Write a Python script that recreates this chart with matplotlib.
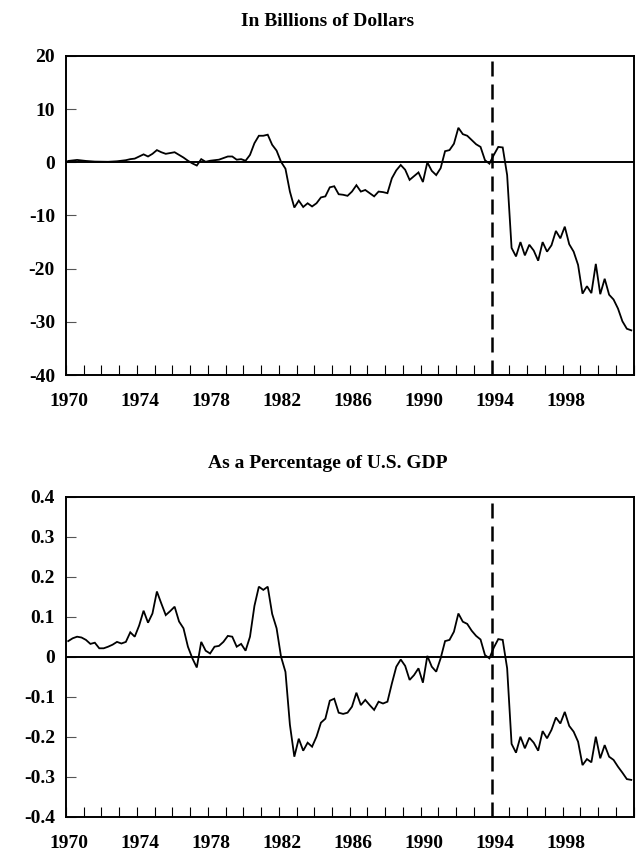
import numpy as np
import matplotlib
matplotlib.use("Agg")
import matplotlib.pyplot as plt
from matplotlib.transforms import ScaledTranslation

plt.rcParams['font.family'] = ['Liberation Serif', 'DejaVu Serif']
plt.rcParams['font.weight'] = 'bold'

# Quarterly data, 1970Q1 - 2001Q4
start_year = 1970
billions = [
    0.26, 0.35, 0.45, 0.35, 0.26, 0.2, 0.14, 0.12, 0.1, 0.1, 0.15, 0.2,
    0.3, 0.4, 0.6, 0.7, 1.1, 1.5, 1.1, 1.6, 2.3, 1.9, 1.6, 1.75,
    1.9, 1.4, 0.9, 0.3, -0.2, -0.6, 0.6, 0.1, 0.3, 0.4, 0.5, 0.8,
    1.1, 1.1, 0.5, 0.6, 0.3, 1.4, 3.6, 5.0, 5.0, 5.2, 3.3, 2.2,
    0.1, -1.2, -5.5, -8.5, -7.2, -8.4, -7.7, -8.3, -7.7, -6.6, -6.4, -4.7,
    -4.5, -6.0, -6.1, -6.3, -5.5, -4.3, -5.5, -5.2, -5.8, -6.4, -5.5, -5.6,
    -5.8, -3.0, -1.5, -0.5, -1.4, -3.3, -2.6, -1.9, -3.7, 0.0, -1.6, -2.4,
    -1.1, 2.1, 2.3, 3.5, 6.5, 5.3, 5.0, 4.2, 3.4, 2.9, 0.4, -0.25,
    1.4, 2.9, 2.8, -2.4, -16.1, -17.7, -15.0, -17.5, -15.5, -16.6, -18.5, -15.0,
    -16.8, -15.6, -12.9, -14.3, -12.1, -15.4, -16.8, -19.3, -24.7, -23.3, -24.6, -19.1,
    -24.8, -21.9, -24.9, -25.8, -27.5, -29.9, -31.3, -31.6,
]
pct_gdp = [
    0.039, 0.046, 0.05, 0.048, 0.042, 0.032, 0.035, 0.021, 0.021, 0.025, 0.03, 0.037,
    0.033, 0.037, 0.061, 0.05, 0.078, 0.115, 0.085, 0.108, 0.163, 0.133, 0.104, 0.114,
    0.125, 0.088, 0.071, 0.025, -0.004, -0.027, 0.037, 0.015, 0.008, 0.025, 0.027, 0.037,
    0.052, 0.05, 0.025, 0.032, 0.015, 0.05, 0.127, 0.175, 0.167, 0.175, 0.107, 0.071,
    0.0, -0.038, -0.17, -0.25, -0.205, -0.235, -0.215, -0.225, -0.2, -0.165, -0.155, -0.11,
    -0.105, -0.14, -0.143, -0.14, -0.125, -0.09, -0.121, -0.108, -0.121, -0.133, -0.1125, -0.117,
    -0.1125, -0.067, -0.025, -0.007, -0.023, -0.058, -0.046, -0.029, -0.065, 0.002, -0.025, -0.0375,
    -0.004, 0.039, 0.042, 0.0625, 0.108, 0.0875, 0.082, 0.065, 0.052, 0.043, 0.004, -0.004,
    0.023, 0.044, 0.042, -0.029, -0.218, -0.24, -0.2, -0.229, -0.2025, -0.215, -0.235, -0.186,
    -0.204, -0.183, -0.152, -0.167, -0.138, -0.173, -0.1875, -0.2125, -0.271, -0.256, -0.264, -0.2,
    -0.254, -0.221, -0.25, -0.258, -0.275, -0.29, -0.306, -0.308,
]
year_ticks = list(range(1970, 2003))
year_labels = [1970, 1974, 1978, 1982, 1986, 1990, 1994, 1998]
event_year = 1994

top_ticks = [20, 10, 0, -10, -20, -30, -40]
top_labels = ["20", "10", "0", "-10", "-20", "-30", "-40"]
bot_ticks = [0.4, 0.3, 0.2, 0.1, 0, -0.1, -0.2, -0.3, -0.4]
bot_labels = ["0.4", "0.3", "0.2", "0.1", "0", "-0.1", "-0.2", "-0.3", "-0.4"]

titles = ["In Billions of Dollars", "As a Percentage of U.S. GDP"]

x = start_year + (np.arange(len(billions)) + 0.5) / 4.0

fig = plt.figure(figsize=(6.38, 8.55), dpi=100)
W, H = 638.0, 855.0
ax_left = 66.0 / W
ax_width = (633.5 - 66.0) / W
ax1 = fig.add_axes([ax_left, 1 - 375.0 / H, ax_width, 319.0 / H])
ax2 = fig.add_axes([ax_left, 1 - 816.7 / H, ax_width, 320.0 / H])

panels = [
    (ax1, billions, (-40, 20), top_ticks, top_labels, titles[0], 22.0),
    (ax2, pct_gdp, (-0.4, 0.4), bot_ticks, bot_labels, titles[1], 463.0),
]

for ax, data, ylim, yt, yl, title, ty in panels:
    ax.plot(x, data, color='black', lw=1.3, solid_joinstyle='miter', zorder=3)
    ax.axhline(0, color='black', lw=1.4, zorder=2)
    ax.axvline(event_year, color='black', lw=1.8, dashes=(6, 3.2), zorder=2)
    ax.set_xlim(1970, 2002)
    ax.set_ylim(*ylim)
    ax.set_yticks(yt)
    ax.set_yticklabels(yl)
    ax.set_xticks(year_ticks, minor=True)
    ax.set_xticks(year_labels)
    ax.set_xticklabels([str(y) for y in year_labels])
    ax.tick_params(axis='x', which='both', direction='in', length=7.2, width=0.8,
                   color='black', top=False, labelsize=14, pad=13)
    ax.tick_params(axis='y', which='both', direction='in', length=7.2, width=0.8,
                   color='#555555', right=False, labelsize=14, pad=8)
    for lab in ax.get_xticklabels():
        lab.set_transform(lab.get_transform() + ScaledTranslation(3 / 100.0, 0, fig.dpi_scale_trans))
        lab.set_fontweight('bold')
    for lab in ax.get_yticklabels():
        lab.set_fontweight('bold')
    for sp in ax.spines.values():
        sp.set_linewidth(1.4)
        sp.set_color('black')
    fig.text(328.0 / W, 1 - ty / H, title, ha='center', va='center',
             fontsize=14, fontweight='bold')

fig.savefig("out.png", dpi=100)
